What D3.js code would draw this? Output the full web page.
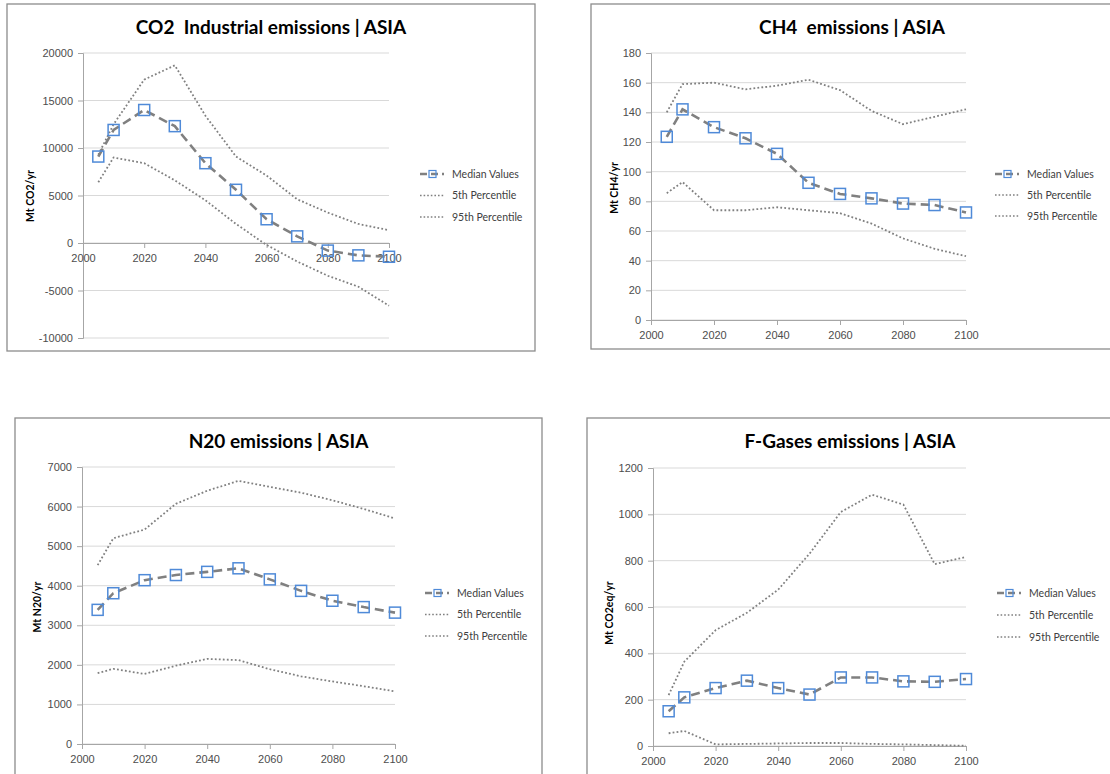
<!DOCTYPE html>
<html>
<head>
<meta charset="utf-8">
<script src="https://cdn.jsdelivr.net/npm/d3@7"></script>
<style>
    body { margin: 0; background: #fff; }
    svg { display: block; font-family: Lato, "Liberation Sans", sans-serif; }
    .tick-label { font-size: 11px; fill: #4d4d4d; }
    .legend-label { font-size: 10.5px; fill: #404040; }
    .chart-title { font-size: 19px; font-weight: bold; fill: #000; }
    .y-title { font-size: 10.5px; font-weight: bold; fill: #000; }
</style>
</head>
<body>
<div id="chart"></div>
<script>

// ---- data ----
const years = [2005, 2010, 2020, 2030, 2040, 2050, 2060, 2070, 2080, 2090, 2100];
const xTicks = [2000, 2020, 2040, 2060, 2080, 2100];
const legendLabels = ["Median Values", "5th Percentile", "95th Percentile"];

const co2Median = [9100, 11900, 14000, 12300, 8400, 5600, 2500, 700, -800, -1300, -1450];
const co2Upper  = [9300, 12500, 17200, 18700, 13400, 9100, 7100, 4600, 3200, 2000, 1350];
const co2Lower  = [6400, 9000, 8400, 6600, 4500, 2000, -200, -1950, -3450, -4600, -6600];
const co2Ticks  = [-10000, -5000, 0, 5000, 10000, 15000, 20000];

const ch4Median = [123.5, 142, 130, 122.5, 112, 92.5, 85, 82, 78.5, 77.5, 72.5];
const ch4Upper  = [140, 159, 160, 155.5, 158, 162, 155, 141, 132, 137, 142];
const ch4Lower  = [85.5, 93, 74, 74, 76, 74, 72, 65, 55, 48, 43];
const ch4Ticks  = [0, 20, 40, 60, 80, 100, 120, 140, 160, 180];

const n2oMedian = [3390, 3810, 4140, 4270, 4350, 4440, 4160, 3870, 3620, 3460, 3320];
const n2oUpper  = [4520, 5200, 5420, 6070, 6400, 6650, 6500, 6350, 6160, 5940, 5700];
const n2oLower  = [1790, 1900, 1770, 1980, 2150, 2120, 1890, 1710, 1580, 1460, 1330];
const n2oTicks  = [0, 1000, 2000, 3000, 4000, 5000, 6000, 7000];

const fgasMedian = [150, 210, 250, 282, 250, 222, 296, 296, 279, 277, 289];
const fgasUpper  = [220, 364, 500, 575, 675, 830, 1010, 1085, 1042, 785, 816];
const fgasLower  = [55, 65, 7, 9, 11, 13, 13, 9, 7, 4, 1];
const fgasTicks  = [0, 200, 400, 600, 800, 1000, 1200];

// excel style numbers, plain hyphen for negatives
const fmt = d => String(d);


class PanelVis {

    constructor(svg, cfg) {
        this.svg = svg;
        this.cfg = cfg;
        this.initVis();
    }

    initVis() {
        let vis = this;
        let c = vis.cfg;

        vis.g = vis.svg.append("g");

        // frame
        vis.g.append("rect")
            .attr("x", c.frame.x).attr("y", c.frame.y)
            .attr("width", c.frame.w).attr("height", c.frame.h)
            .attr("fill", "#fff")
            .attr("stroke", "#8c8c8c")
            .attr("stroke-width", 1.3);

        vis.x = d3.scaleLinear().domain([2000, 2100]).range([c.plot.left, c.plot.right]);
        vis.y = d3.scaleLinear().domain(d3.extent(c.yTicks)).range([c.plot.bottom, c.plot.top]);

        // gridlines
        vis.g.append("g")
            .selectAll("line")
            .data(c.yTicks)
            .enter()
            .append("line")
            .attr("x1", c.plot.left).attr("x2", c.plot.right)
            .attr("y1", d => vis.y(d)).attr("y2", d => vis.y(d))
            .attr("stroke", "#d9d9d9")
            .attr("stroke-width", 1);

        // y axis
        let yAxis = vis.g.append("g")
            .attr("transform", `translate(${c.plot.left},0)`)
            .call(d3.axisLeft(vis.y).tickValues(c.yTicks).tickSize(5).tickPadding(5).tickFormat(fmt));
        yAxis.select(".domain").attr("stroke", "#a6a6a6");
        yAxis.selectAll(".tick line").attr("stroke", "#a6a6a6");
        yAxis.selectAll(".tick text").attr("class", "tick-label").attr("font-family", null).attr("font-size", null);

        // x axis, drawn where y = 0
        let xAxis = vis.g.append("g")
            .attr("transform", `translate(0,${vis.y(0)})`)
            .call(d3.axisBottom(vis.x).tickValues(xTicks).tickSize(5).tickPadding(6).tickFormat(fmt));
        xAxis.select(".domain").attr("stroke", "#a6a6a6");
        xAxis.selectAll(".tick line").attr("stroke", "#a6a6a6");
        xAxis.selectAll(".tick text").attr("class", "tick-label").attr("font-family", null).attr("font-size", null);

        // title
        vis.g.append("text")
            .attr("class", "chart-title")
            .attr("x", c.frame.x + c.frame.w / 2)
            .attr("y", c.frame.y + 30)
            .attr("text-anchor", "middle")
            .style("white-space", "pre")
            .text(c.title);

        // y axis title
        vis.g.append("text")
            .attr("class", "y-title")
            .attr("transform", `translate(${c.yLabelPos[0]},${c.yLabelPos[1]}) rotate(-90)`)
            .attr("text-anchor", "middle")
            .attr("dy", "0.35em")
            .text(c.yLabel);

        let line = d3.line()
            .x((d, i) => vis.x(years[i]))
            .y(d => vis.y(d));

        // percentile lines (dotted)
        [c.lower, c.upper].forEach(series => {
            vis.g.append("path")
                .datum(series)
                .attr("d", line)
                .attr("fill", "none")
                .attr("stroke", "#808080")
                .attr("stroke-width", 1.8)
                .attr("stroke-dasharray", "1.8,2.2");
        });

        // median line (dashed) + markers
        vis.g.append("path")
            .datum(c.median)
            .attr("d", line)
            .attr("fill", "none")
            .attr("stroke", "#808080")
            .attr("stroke-width", 2.6)
            .attr("stroke-dasharray", "9,5");

        vis.g.append("g")
            .selectAll("rect")
            .data(c.median)
            .enter()
            .append("rect")
            .attr("x", (d, i) => vis.x(years[i]) - 5.5)
            .attr("y", d => vis.y(d) - 5.5)
            .attr("width", 11).attr("height", 11)
            .attr("fill", "none")
            .attr("stroke", "#4f8ad8")
            .attr("stroke-width", 1.5);

        // legend
        let leg = vis.g.append("g")
            .attr("transform", `translate(${c.plot.right + c.legendDx},${c.legendY})`);

        legendLabels.forEach((lab, i) => {
            let ly = i * c.legendGap;
            if (i == 0) {
                leg.append("line")
                    .attr("x1", 0).attr("x2", 24).attr("y1", ly).attr("y2", ly)
                    .attr("stroke", "#808080").attr("stroke-width", 2.6)
                    .attr("stroke-dasharray", "7,4");
                leg.append("rect")
                    .attr("x", 9).attr("y", ly - 3.5).attr("width", 7).attr("height", 7)
                    .attr("fill", "none").attr("stroke", "#4f8ad8").attr("stroke-width", 1.2);
            } else {
                leg.append("line")
                    .attr("x1", 0).attr("x2", 25).attr("y1", ly).attr("y2", ly)
                    .attr("stroke", "#808080").attr("stroke-width", 1.6)
                    .attr("stroke-dasharray", "1.6,2");
            }
            leg.append("text")
                .attr("class", "legend-label")
                .attr("x", 32)
                .attr("y", ly)
                .attr("dy", "0.35em")
                .text(lab);
        });
    }
}

let svg = d3.select("#chart").append("svg")
    .attr("width", 1110)
    .attr("height", 774);

new PanelVis(svg, {
    title: "CO2  Industrial emissions | ASIA",
    yLabel: "Mt CO2/yr",
    median: co2Median, upper: co2Upper, lower: co2Lower, yTicks: co2Ticks,
    frame: {x: 7, y: 4, w: 528, h: 347},
    plot: {left: 83, right: 389, top: 53, bottom: 338},
    yLabelPos: [30, 196],
    legendDx: 31, legendY: 174, legendGap: 21.5
});

new PanelVis(svg, {
    title: "CH4  emissions | ASIA",
    yLabel: "Mt CH4/yr",
    median: ch4Median, upper: ch4Upper, lower: ch4Lower, yTicks: ch4Ticks,
    frame: {x: 591, y: 4, w: 522, h: 345},
    plot: {left: 651, right: 966, top: 53, bottom: 320},
    yLabelPos: [614, 188],
    legendDx: 29, legendY: 174, legendGap: 21
});

new PanelVis(svg, {
    title: "N20 emissions | ASIA",
    yLabel: "Mt N20/yr",
    median: n2oMedian, upper: n2oUpper, lower: n2oLower, yTicks: n2oTicks,
    frame: {x: 15, y: 418, w: 527, h: 380},
    plot: {left: 82, right: 395, top: 467, bottom: 744},
    yLabelPos: [37, 607],
    legendDx: 30, legendY: 593, legendGap: 21.5
});

new PanelVis(svg, {
    title: "F-Gases emissions | ASIA",
    yLabel: "Mt CO2eq/yr",
    median: fgasMedian, upper: fgasUpper, lower: fgasLower, yTicks: fgasTicks,
    frame: {x: 587, y: 418, w: 526, h: 380},
    plot: {left: 653, right: 966, top: 468, bottom: 746},
    yLabelPos: [609, 613],
    legendDx: 31, legendY: 593, legendGap: 22
});

</script>
</body>
</html>
